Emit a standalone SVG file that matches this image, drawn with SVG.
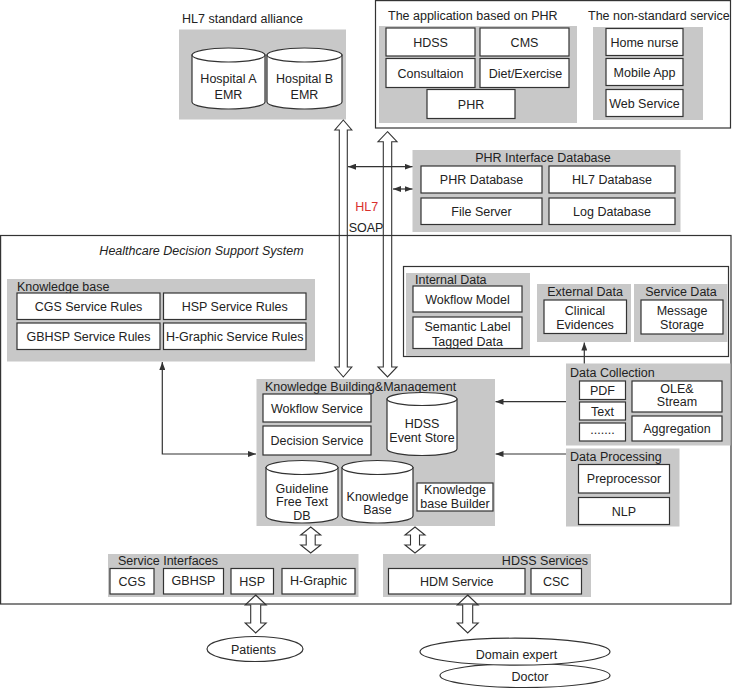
<svg xmlns="http://www.w3.org/2000/svg" width="733" height="688" viewBox="0 0 733 688">
<defs>
<style>
text{font-family:"Liberation Sans",Arial,sans-serif;font-size:12.5px;fill:#222}
.c{text-anchor:middle}
.g{fill:#c8c8c8}
.b{fill:#fff;stroke:#333;stroke-width:1.2}
.f{fill:none;stroke:#333;stroke-width:1.2}
.ln{fill:none;stroke:#333;stroke-width:1.2}
.ha{fill:none;stroke:#333;stroke-width:1.1}
</style>
<marker id="ah" viewBox="0 0 8 6" refX="8" refY="3" markerWidth="8" markerHeight="6" markerUnits="userSpaceOnUse" orient="auto-start-reverse">
<path d="M0,0 L8,3 L0,6 z" fill="#333"/>
</marker>
</defs>
<rect width="733" height="688" fill="#fff"/>

<g id="hl7-alliance">
<text x="182" y="23">HL7 standard alliance</text>
<rect class="g" x="179" y="29.5" width="167" height="90"/>
<path class="b" d="M192,55 V102 A36.5,7 0 0 0 265,102 V55 Z"/>
<ellipse class="b" cx="228.5" cy="55" rx="36.5" ry="7"/>
<text class="c" x="228.5" y="83">Hospital A</text>
<text class="c" x="228.5" y="99">EMR</text>
<path class="b" d="M267,55 V102 A37.5,7 0 0 0 342,102 V55 Z"/>
<ellipse class="b" cx="304.5" cy="55" rx="37.5" ry="7"/>
<text class="c" x="304.5" y="83">Hospital B</text>
<text class="c" x="304.5" y="99">EMR</text>
</g>

<g id="phr-apps">
<rect class="f" x="375.5" y="0.6" width="355" height="127.4"/>
<text x="388" y="19.5">The application based on PHR</text>
<text x="588" y="19.5">The non-standard service</text>
<rect class="g" x="379" y="26" width="198" height="97"/>
<rect class="b" x="386" y="28" width="89" height="28"/>
<text class="c" x="430.5" y="46.5">HDSS</text>
<rect class="b" x="480" y="28" width="89" height="28"/>
<text class="c" x="524.5" y="46.5">CMS</text>
<rect class="b" x="386" y="58.5" width="89" height="29"/>
<text class="c" x="430.5" y="77.5">Consultaion</text>
<rect class="b" x="480" y="58.5" width="89" height="29"/>
<text class="c" x="525.5" y="77.5">Diet/Exercise</text>
<rect class="b" x="427" y="89.5" width="88" height="29"/>
<text class="c" x="471" y="108.5">PHR</text>
<rect class="g" x="593" y="27" width="110" height="93"/>
<rect class="b" x="606" y="28.5" width="77" height="27"/>
<text class="c" x="644.5" y="46.5">Home nurse</text>
<rect class="b" x="606" y="58.5" width="77" height="27"/>
<text class="c" x="644.5" y="76.5">Mobile App</text>
<rect class="b" x="606" y="89.5" width="77" height="27"/>
<text class="c" x="644.5" y="107.5">Web Service</text>
</g>

<g id="phr-interface-db">
<rect class="g" x="412.5" y="150" width="268" height="82"/>
<text class="c" x="543" y="162">PHR Interface Database</text>
<rect class="b" x="421" y="166" width="121" height="27"/>
<text class="c" x="481.5" y="184">PHR Database</text>
<rect class="b" x="549" y="166" width="126" height="27"/>
<text class="c" x="612" y="184">HL7 Database</text>
<rect class="b" x="421" y="198" width="121" height="26.5"/>
<text class="c" x="481.5" y="215.5">File Server</text>
<rect class="b" x="549" y="198" width="126" height="26.5"/>
<text class="c" x="612" y="215.5">Log Database</text>
</g>

<g id="hdss-frame">
<rect class="f" x="0.6" y="235.5" width="730.4" height="368.5"/>
<text class="c" x="201.5" y="254.5" font-style="italic">Healthcare Decision Support System</text>
</g>

<g id="knowledge-base">
<rect class="g" x="7" y="279" width="308" height="82.5"/>
<text x="17" y="290.5">Knowledge base</text>
<rect class="b" x="17" y="293" width="143" height="26.5"/>
<text class="c" x="88.5" y="310.5">CGS Service Rules</text>
<rect class="b" x="163.5" y="293" width="142.5" height="26.5"/>
<text class="c" x="234.7" y="310.5">HSP Service Rules</text>
<rect class="b" x="17" y="323" width="143" height="26.5"/>
<text class="c" x="88.5" y="340.5">GBHSP Service Rules</text>
<rect class="b" x="163.5" y="323" width="142.5" height="26.5"/>
<text class="c" x="234.7" y="340.5">H-Graphic Service Rules</text>
</g>

<g id="data-sources">
<rect class="f" x="403.5" y="266.5" width="325" height="90"/>
<rect class="g" x="406" y="273" width="124" height="83"/>
<text x="415" y="283.5">Internal Data</text>
<rect class="b" x="413" y="286" width="109" height="26"/>
<text class="c" x="467.5" y="303.5">Wokflow Model</text>
<rect class="b" x="413" y="317" width="109" height="31.5"/>
<text class="c" x="467.5" y="331">Semantic Label</text>
<text class="c" x="467.5" y="345.5">Tagged Data</text>
<rect class="g" x="537" y="284" width="94" height="58"/>
<text class="c" x="585" y="296">External Data</text>
<rect class="b" x="544" y="300" width="82.5" height="33.5"/>
<text class="c" x="585" y="314.5">Clinical</text>
<text class="c" x="585" y="328.5">Evidences</text>
<rect class="g" x="634" y="284" width="93.5" height="58"/>
<text class="c" x="681" y="296">Service Data</text>
<rect class="b" x="641" y="300" width="82" height="34"/>
<text class="c" x="682" y="314.5">Message</text>
<text class="c" x="682" y="328.5">Storage</text>
</g>

<g id="kbm">
<rect class="g" x="256.5" y="379" width="238.5" height="147"/>
<text x="265" y="390.5">Knowledge Building&amp;Management</text>
<rect class="b" x="263" y="394" width="108" height="28"/>
<text class="c" x="317" y="412.5">Wokflow Service</text>
<rect class="b" x="263" y="426" width="108" height="29"/>
<text class="c" x="317" y="445">Decision Service</text>
<path class="b" d="M387,399 V449 A35,6.5 0 0 0 457,449 V399 Z"/>
<ellipse class="b" cx="422" cy="399" rx="35" ry="6.5"/>
<text class="c" x="422" y="427.5">HDSS</text>
<text class="c" x="422" y="442">Event Store</text>
<path class="b" d="M266,467.5 V516 A36,7 0 0 0 338,516 V467.5 Z"/>
<ellipse class="b" cx="302" cy="467.5" rx="36" ry="7"/>
<text class="c" x="302" y="493">Guideline</text>
<text class="c" x="302" y="506">Free Text</text>
<text class="c" x="302" y="520">DB</text>
<path class="b" d="M342,467.5 V516 A35.5,7 0 0 0 413,516 V467.5 Z"/>
<ellipse class="b" cx="377.5" cy="467.5" rx="35.5" ry="7"/>
<text class="c" x="377.5" y="501">Knowledge</text>
<text class="c" x="377.5" y="514">Base</text>
<rect class="b" x="417" y="483" width="76" height="28"/>
<text class="c" x="455" y="494">Knowledge</text>
<text class="c" x="455" y="508">base Builder</text>
</g>

<g id="data-collection">
<rect class="g" x="566" y="363.5" width="164.5" height="82"/>
<text x="570" y="377">Data Collection</text>
<rect class="b" x="579.5" y="381" width="46" height="18.5"/>
<text class="c" x="602.5" y="395">PDF</text>
<rect class="b" x="579.5" y="402" width="46" height="18"/>
<text class="c" x="602.5" y="415.5">Text</text>
<rect class="b" x="579.5" y="423" width="46" height="18"/>
<text class="c" x="602.5" y="434" font-size="9">.......</text>
<rect class="b" x="632" y="381" width="90" height="31"/>
<text class="c" x="677" y="393">OLE&amp;</text>
<text class="c" x="677" y="406">Stream</text>
<rect class="b" x="632" y="416" width="90" height="25"/>
<text class="c" x="677" y="433">Aggregation</text>
</g>

<g id="data-processing">
<rect class="g" x="566" y="448.5" width="113.5" height="78"/>
<text x="570" y="461">Data Processing</text>
<rect class="b" x="578.5" y="464.5" width="91" height="28.5"/>
<text class="c" x="624" y="483">Preprocessor</text>
<rect class="b" x="578.5" y="497.5" width="91" height="27"/>
<text class="c" x="624" y="515.5">NLP</text>
</g>

<g id="service-interfaces">
<rect class="g" x="108" y="554" width="250.5" height="43"/>
<text x="118" y="565">Service Interfaces</text>
<rect class="b" x="110" y="568.5" width="44" height="25.5"/>
<text class="c" x="132" y="586">CGS</text>
<rect class="b" x="163.5" y="568.5" width="60" height="25.5"/>
<text class="c" x="193.5" y="585">GBHSP</text>
<rect class="b" x="231" y="568.5" width="42.5" height="25.5"/>
<text class="c" x="252.2" y="586">HSP</text>
<rect class="b" x="282" y="568.5" width="73" height="25.5"/>
<text class="c" x="318.5" y="585">H-Graphic</text>
</g>

<g id="hdss-services">
<rect class="g" x="383" y="554" width="208" height="43"/>
<text x="588" y="565" text-anchor="end">HDSS Services</text>
<rect class="b" x="388.5" y="568.5" width="136.5" height="25.5"/>
<text class="c" x="456.7" y="586">HDM Service</text>
<rect class="b" x="531" y="568.5" width="50.5" height="25.5"/>
<text class="c" x="556.2" y="586">CSC</text>
</g>

<g id="actors">
<ellipse class="b" cx="255" cy="649" rx="48" ry="12.5"/>
<text class="c" x="253.5" y="654">Patients</text>
<ellipse class="b" cx="525" cy="675.5" rx="85" ry="12"/>
<text class="c" x="530" y="680.5">Doctor</text>
<ellipse class="b" cx="515" cy="651.7" rx="95" ry="13.5"/>
<text class="c" x="516.5" y="658.5">Domain expert</text>
</g>

<g id="connectors">
<path class="ha" d="M343.3,120 L351.8,130 L347.3,130 L347.3,367 L351.8,367 L343.3,377 L334.8,367 L339.3,367 L339.3,130 L334.8,130 Z"/>
<path class="ha" d="M387.5,131.7 L397,141.7 L391.7,141.7 L391.7,367 L397,367 L387.5,377 L378,367 L383.3,367 L383.3,141.7 L378,141.7 Z"/>
<line class="ln" x1="348" y1="166.7" x2="412.5" y2="166.7" marker-start="url(#ah)" marker-end="url(#ah)"/>
<line class="ln" x1="393" y1="189" x2="412.5" y2="189" marker-start="url(#ah)" marker-end="url(#ah)"/>
<text class="c" x="366.7" y="211" style="fill:#d9302c">HL7</text>
<text class="c" x="366" y="231.5">SOAP</text>
<polyline class="ln" points="162.3,362 162.3,454 256,454" marker-start="url(#ah)" marker-end="url(#ah)"/>
<line class="ln" x1="584.3" y1="363.5" x2="584.3" y2="342.5" marker-end="url(#ah)"/>
<line class="ln" x1="566" y1="401.7" x2="495.5" y2="401.7" marker-end="url(#ah)"/>
<line class="ln" x1="566" y1="454" x2="495.5" y2="454" marker-end="url(#ah)"/>
<path class="ha" d="M310.7,527 L320.7,535 L315.2,535 L315.2,545 L320.7,545 L310.7,553 L300.7,545 L306.2,545 L306.2,535 L300.7,535 Z"/>
<path class="ha" d="M415,527 L425,535 L419.5,535 L419.5,545 L425,545 L415,553 L405,545 L410.5,545 L410.5,535 L405,535 Z"/>
<path class="ha" d="M255.7,595 L266.2,605 L260.7,605 L260.7,623 L266.2,623 L255.7,633 L245.2,623 L250.7,623 L250.7,605 L245.2,605 Z"/>
<path class="ha" d="M467.7,595 L478.2,605 L472.7,605 L472.7,623 L478.2,623 L467.7,633 L457.2,623 L462.7,623 L462.7,605 L457.2,605 Z"/>
</g>
</svg>
